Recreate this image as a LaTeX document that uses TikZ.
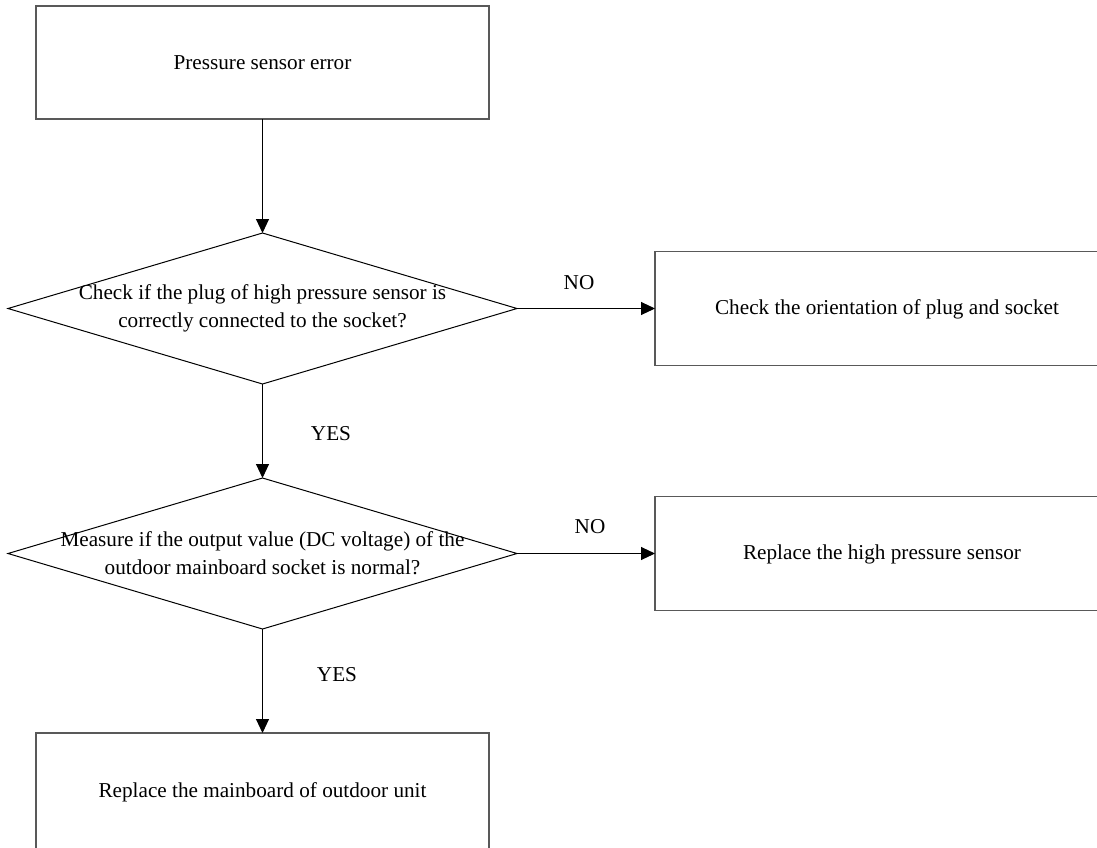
\documentclass[tikz,border=0pt]{standalone}
\usepackage{fontspec}
\setmainfont{Liberation Serif}
\usetikzlibrary{shapes.geometric,arrows.meta}
\begin{document}
\begin{tikzpicture}[x=1pt,y=-1pt,
  every node/.style={font=\fontsize{21.2}{28}\selectfont},
  box/.style={draw=black!65, line width=1.3pt, rectangle, inner sep=0pt, outer sep=0pt, align=center},
  dia/.style={draw=black, line width=1pt, diamond, inner sep=0pt, outer sep=0pt},
  txt/.style={align=center, inner sep=0pt},
  conn/.style={draw=black, line width=1pt, -{Triangle[length=14pt,width=13pt]}},
  lbl/.style={inner sep=0pt}]
\useasboundingbox (0,0) rectangle (1097,847);
\clip (0,0) rectangle (1097,847);
\fill[white] (0,0) rectangle (1097,847);
\node[box, minimum width=453pt, minimum height=113pt] (b1) at (262.5,62.5) {Pressure sensor error};
\node[dia, minimum width=509pt, minimum height=151pt] (d1) at (262.5,308.5) {};
\node[txt] (t1) at (262.5,308.5) {Check if the plug of high pressure sensor is\\correctly connected to the socket?};
\node[box, minimum width=465pt, minimum height=114pt] (b2) at (887.5,308.5) {};
\node[txt] (t2) at (887,309) {Check the orientation of plug and socket};
\node[dia, minimum width=509pt, minimum height=151pt] (d2) at (262.5,553.5) {};
\node[txt] (t3) at (262.5,553.5) {Measure if the output value (DC voltage) of the\\outdoor mainboard socket is normal?};
\node[box, minimum width=465pt, minimum height=114pt] (b3) at (887.5,553.5) {};
\node[txt] (t4) at (882,554) {Replace the high pressure sensor};
\node[box, minimum width=453pt, minimum height=118pt] (b4) at (262.5,792) {Replace the mainboard of outdoor unit};
\draw[conn] (b1.south) -- (d1.north);
\draw[conn] (d1.east) -- (b2.west);
\draw[conn] (d1.south) -- (d2.north);
\draw[conn] (d2.east) -- (b3.west);
\draw[conn] (d2.south) -- (b4.north);
\node[lbl] (n1) at (579,283) {NO};
\node[lbl] (n2) at (590,527) {NO};
\node[lbl] (y1) at (331,434) {YES};
\node[lbl] (y2) at (337,675) {YES};
\end{tikzpicture}
\end{document}
